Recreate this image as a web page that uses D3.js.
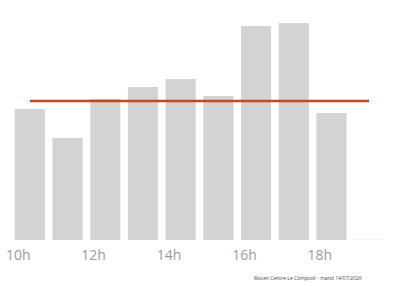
<!DOCTYPE html>
<html>
<head>
<meta charset="utf-8">
<script src="https://cdn.jsdelivr.net/npm/d3@7"></script>
<style>
  html, body { margin: 0; padding: 0; background: #fff; }
  svg { display: block; }
</style>
</head>
<body>
<svg id="chart" width="400" height="286"></svg>
<script>
const hours = [10, 11, 12, 13, 14, 15, 16, 17, 18, 19];
const visits = [131, 102, 141, 153, 161, 144, 214, 217, 127, 1];
const average = 139;
const tickHours = [10, 12, 14, 16, 18];
const tickLabels = ["10h", "12h", "14h", "16h", "18h"];
const footnote = "Rouen Centre Le Comptoir - mardi 14/07/2026";

const svg = d3.select("#chart");
const baseY = 240;

const x = d3.scaleBand().domain(hours).range([11, 388]).paddingInner(0.2).paddingOuter(0.1);
const y = d3.scaleLinear().domain([0, 240]).range([baseY, 0]);

svg.selectAll("rect.bar")
  .data(hours)
  .join("rect")
  .attr("class", "bar")
  .attr("x", h => x(h))
  .attr("width", x.bandwidth())
  .attr("y", (h, i) => y(visits[i]))
  .attr("height", (h, i) => y(0) - y(visits[i]))
  .attr("fill", (h, i) => visits[i] < 5 ? "#f2f2f2" : "#d3d3d3");

// average line from centre of first bar to centre of last bar
svg.append("line")
  .attr("x1", x(hours[0]) + x.bandwidth() / 2)
  .attr("x2", x(hours[hours.length - 1]) + x.bandwidth() / 2)
  .attr("y1", y(average))
  .attr("y2", y(average))
  .attr("stroke", "#c24a1c")
  .attr("stroke-width", 2.5);

svg.selectAll("text.tick")
  .data(tickHours)
  .join("text")
  .attr("class", "tick")
  .attr("x", h => x(h) + 3.5)
  .attr("y", 260)
  .attr("text-anchor", "middle")
  .attr("font-family", "'Open Sans', sans-serif")
  .attr("font-size", 14)
  .attr("fill", "#9a9a9a")
  .text((h, i) => tickLabels[i]);

svg.append("text")
  .attr("x", 254)
  .attr("y", 280)
  .attr("font-family", "'Open Sans', sans-serif")
  .attr("font-size", 5)
  .attr("fill", "#444")
  .text(footnote);
</script>
</body>
</html>
